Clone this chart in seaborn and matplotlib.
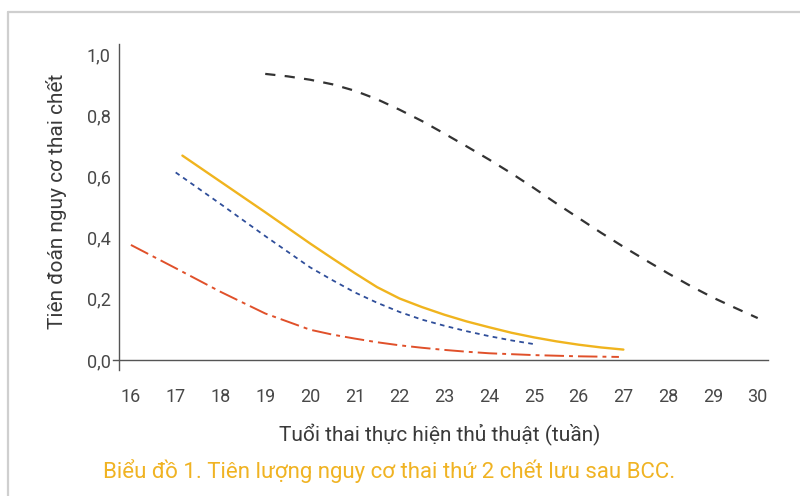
import matplotlib
matplotlib.use("Agg")
import matplotlib.pyplot as plt
import seaborn as sns
import pandas as pd
from matplotlib.lines import Line2D

sns.set_style("white")
plt.rcParams['font.family'] = ['Roboto', 'DejaVu Sans']

# ---- data ----
x_black = [19.0, 19.5, 20.0, 20.5, 21.0, 21.5, 22.0, 22.5, 23.0, 23.5, 24.0, 24.5,
           25.0, 25.5, 26.0, 26.5, 27.0, 27.5, 28.0, 28.5, 29.0, 29.5, 30.0]
y_black = [0.935, 0.927, 0.916, 0.901, 0.880, 0.852, 0.818, 0.781, 0.740, 0.698, 0.655, 0.610,
           0.562, 0.512, 0.464, 0.416, 0.370, 0.326, 0.283, 0.242, 0.204, 0.170, 0.137]

x_yellow = [17.15, 18.0, 19.0, 20.0, 20.5, 21.0, 21.5, 22.0, 22.5, 23.0, 23.5, 24.0,
            24.5, 25.0, 25.5, 26.0, 26.5, 27.0]
y_yellow = [0.668, 0.583, 0.483, 0.381, 0.332, 0.284, 0.238, 0.201, 0.173, 0.148, 0.126, 0.107,
            0.089, 0.074, 0.061, 0.050, 0.041, 0.034]

x_blue = [17.0, 18.0, 19.0, 20.0, 20.5, 21.0, 21.5, 22.0, 22.5, 23.0, 23.5, 24.0, 24.5, 25.0]
y_blue = [0.613, 0.510, 0.405, 0.303, 0.261, 0.221, 0.187, 0.157, 0.132, 0.112, 0.094, 0.078,
          0.064, 0.052]

x_red = [16.0, 17.0, 18.0, 19.0, 20.0, 20.5, 21.0, 21.5, 22.0, 22.5, 23.0, 23.5, 24.0,
         25.0, 26.0, 26.9]
y_red = [0.376, 0.300, 0.223, 0.152, 0.099, 0.083, 0.070, 0.058, 0.048, 0.040, 0.033, 0.027,
         0.022, 0.016, 0.012, 0.010]

x_ticks = list(range(16, 31))
y_ticks = [0.0, 0.2, 0.4, 0.6, 0.8, 1.0]
y_tick_labels = ["0,0", "0,2", "0,4", "0,6", "0,8", "1,0"]

x_label = "Tuổi thai thực hiện thủ thuật (tuần)"
y_label = "Tiên đoán nguy cơ thai chết"
caption = "Biểu đồ 1. Tiên lượng nguy cơ thai thứ 2 chết lưu sau BCC."

# ---- figure ----
W, H = 800, 496
fig = plt.figure(figsize=(W / 100, H / 100), dpi=100)
fig.patch.set_facecolor("white")

def fx(px):
    return px / W

def fy(py):
    return 1 - py / H

ax_l, ax_r, ax_t, ax_b = 113, 768, 44, 370
ax = fig.add_axes([fx(ax_l), fy(ax_b), (ax_r - ax_l) / W, (ax_b - ax_t) / H])
ax.set_facecolor("white")

tc = "#484848"
sc = "#555555"

df_black = pd.DataFrame({"x": x_black, "y": y_black})
df_yellow = pd.DataFrame({"x": x_yellow, "y": y_yellow})
df_blue = pd.DataFrame({"x": x_blue, "y": y_blue})
df_red = pd.DataFrame({"x": x_red, "y": y_red})

sns.lineplot(data=df_black, x="x", y="y", ax=ax, color="#333333", lw=1.6)
ax.lines[-1].set_dashes((4.6, 4.2))
sns.lineplot(data=df_yellow, x="x", y="y", ax=ax, color="#F0B41E", lw=1.7)
sns.lineplot(data=df_blue, x="x", y="y", ax=ax, color="#2F4E9A", lw=1.3)
ax.lines[-1].set_dashes((2.6, 2.4))
sns.lineplot(data=df_red, x="x", y="y", ax=ax, color="#E0502A", lw=1.4)
ax.lines[-1].set_dashes((10.0, 2.6, 2.0, 2.6))

ax.set_xlim(15.6, 30.23)
ax.set_ylim(-0.0327, 1.0327)
ax.set_xticks(x_ticks)
ax.set_xticklabels([str(v) for v in x_ticks])
ax.set_yticks(y_ticks)
ax.set_yticklabels(y_tick_labels)
ax.set_xlabel("")
ax.set_ylabel("")

for s in ["top", "right"]:
    ax.spines[s].set_visible(False)
ax.spines["left"].set_position(("data", 15.73))
ax.spines["bottom"].set_position(("data", 0.0))
for s in ["left", "bottom"]:
    ax.spines[s].set_color(sc)
    ax.spines[s].set_linewidth(1.0)

ax.tick_params(axis="x", direction="out", length=7.2, width=1.0, color=sc,
               labelsize=13, labelcolor=tc, pad=13)
ax.tick_params(axis="y", direction="in", length=7.9, width=1.0, color=sc,
               labelsize=13, labelcolor=tc, pad=6)

fig.text(fx(440), fy(435), x_label, ha="center", va="center", fontsize=15,
         color="#3a3a3a")
fig.text(fx(57), fy(201), y_label, ha="center", va="center", fontsize=15,
         color="#3a3a3a", rotation=90)
fig.text(fx(103), fy(471), caption, ha="left", va="center", fontsize=16.0,
         color="#F0B323")

# light grey frame
fig.add_artist(Line2D([fx(8), fx(800)], [fy(12), fy(12)], transform=fig.transFigure,
                      color="#cfcfcf", lw=1.6))
fig.add_artist(Line2D([fx(8), fx(8)], [fy(12), fy(496)], transform=fig.transFigure,
                      color="#cfcfcf", lw=1.6))

fig.savefig("out.png", dpi=100, facecolor="white")
